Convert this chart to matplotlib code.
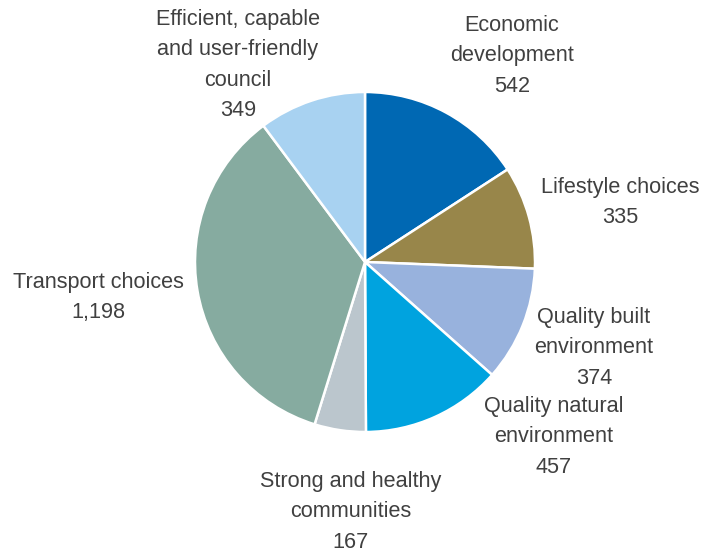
import matplotlib
matplotlib.use('Agg')
import matplotlib.pyplot as plt

plt.rcParams['font.family'] = ['Liberation Sans', 'DejaVu Sans']

# Data
categories = ['Economic\ndevelopment', 'Lifestyle choices', 'Quality built\nenvironment',
              'Quality natural\nenvironment', 'Strong and healthy\ncommunities',
              'Transport choices', 'Efficient, capable\nand user-friendly\ncouncil']
values = [542, 335, 374, 457, 167, 1198, 349]
colors = ['#0068B3', '#98864A', '#98B2DD', '#00A3DF', '#BBC6CD', '#86ABA0', '#A8D2F1']

# label centres in pixels (x, y of first line, from top)
label_pos = [(512, 24), (620, 186), (594, 316), (554, 405), (351, 480), (98, 281), (238, 18)]

W, H = 704, 552
fig = plt.figure(figsize=(W / 100, H / 100), dpi=100)
cx, cy, r = 365, 262, 170
ax = fig.add_axes([(cx - r) / W, (H - cy - r) / H, 2 * r / W, 2 * r / H])
ax.pie(values, colors=colors, startangle=90, counterclock=False,
       wedgeprops=dict(edgecolor='white', linewidth=1.8), radius=1)
ax.set_xlim(-1, 1)
ax.set_ylim(-1, 1)
ax.set_aspect('equal')
ax.axis('off')

for cat, val, (x, y) in zip(categories, values, label_pos):
    txt = cat + '\n' + f'{val:,}'
    fig.text(x / W, 1 - (y - 9) / H, txt, ha='center', va='top',
             fontsize=15.6, color='#404040', linespacing=1.58)

fig.savefig('out.png', dpi=100)
